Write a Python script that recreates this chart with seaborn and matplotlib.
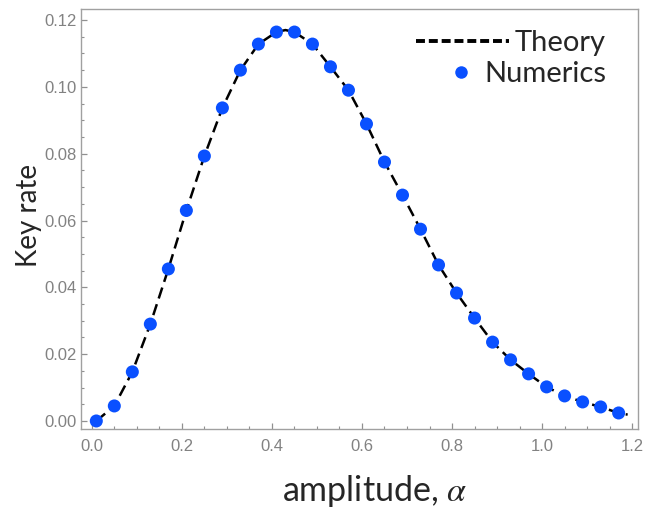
import matplotlib
matplotlib.use("Agg")
import matplotlib.pyplot as plt
import seaborn as sns
import pandas as pd
from matplotlib.ticker import MultipleLocator
from matplotlib.lines import Line2D

# ---- data ----
numerics_x = [0.01, 0.05, 0.09, 0.13, 0.17, 0.21, 0.25, 0.29, 0.33, 0.37,
              0.41, 0.45, 0.49, 0.53, 0.57, 0.61, 0.65, 0.69, 0.73, 0.77,
              0.81, 0.85, 0.89, 0.93, 0.97, 1.01, 1.05, 1.09, 1.13, 1.17]
numerics_y = [0.0000, 0.0045, 0.0147, 0.0290, 0.0455, 0.0630, 0.0793, 0.0937,
              0.1050, 0.1128, 0.1164, 0.1164, 0.1128, 0.1060, 0.0990, 0.0889,
              0.0775, 0.0676, 0.0574, 0.0467, 0.0383, 0.0308, 0.0236, 0.0183,
              0.0141, 0.0102, 0.0075, 0.0057, 0.0042, 0.0024]
theory_x = [0.01, 0.05, 0.09, 0.13, 0.17, 0.21, 0.25, 0.29, 0.33, 0.37,
            0.41, 0.43, 0.45, 0.49, 0.53, 0.57, 0.61, 0.65, 0.69, 0.73, 0.77,
            0.81, 0.85, 0.89, 0.93, 0.97, 1.01, 1.05, 1.09, 1.13, 1.17, 1.19]
theory_y = [0.0000, 0.0045, 0.0147, 0.0290, 0.0455, 0.0630, 0.0793, 0.0937,
            0.1050, 0.1128, 0.1164, 0.1170, 0.1164, 0.1128, 0.1060, 0.0990,
            0.0889, 0.0775, 0.0676, 0.0574, 0.0467, 0.0383, 0.0308, 0.0236,
            0.0183, 0.0141, 0.0102, 0.0075, 0.0057, 0.0042, 0.0024, 0.0019]
x_ticks = [0.0, 0.2, 0.4, 0.6, 0.8, 1.0, 1.2]
y_ticks = [0.00, 0.02, 0.04, 0.06, 0.08, 0.10, 0.12]

sns.set_style("white")
plt.rcParams["font.family"] = ["Lato", "DejaVu Sans"]
plt.rcParams["mathtext.fontset"] = "stix"

BLUE = "#0A50FF"
GRAY = "#828282"

fig = plt.figure(figsize=(6.45, 5.08), dpi=100)
ax = fig.add_axes([81 / 645, 1 - 429 / 508, 557 / 645, 420 / 508])

theory = pd.DataFrame({"x": theory_x, "y": theory_y})
num = pd.DataFrame({"x": numerics_x, "y": numerics_y})

sns.lineplot(data=theory, x="x", y="y", ax=ax, color="black", lw=1.8,
             dashes=False, sort=True, zorder=2, linestyle=(0, (4.6, 2.4)))
sns.scatterplot(data=num, x="x", y="y", ax=ax, color=BLUE, s=88,
                edgecolor="none", zorder=3)

ax.set_xlim(-0.024, 1.213)
ax.set_ylim(-0.0024, 0.1233)
ax.set_xticks(x_ticks)
ax.set_yticks(y_ticks)
ax.set_xticklabels([f"{v:.1f}" for v in x_ticks])
ax.set_yticklabels([f"{v:.2f}" for v in y_ticks])
ax.xaxis.set_minor_locator(MultipleLocator(0.05))
ax.yaxis.set_minor_locator(MultipleLocator(0.005))

for sp in ax.spines.values():
    sp.set_color("#a0a0a0")
    sp.set_linewidth(1.0)

ax.tick_params(which="both", direction="in", color="#909090",
               bottom=True, left=True, top=False, right=False)
ax.tick_params(which="major", length=4, width=0.9)
ax.tick_params(which="minor", length=2.3, width=0.8)
ax.tick_params(axis="x", which="major", pad=7)
ax.tick_params(axis="y", which="major", pad=3)
for lab in ax.get_xticklabels() + ax.get_yticklabels():
    lab.set_fontfamily(["Liberation Sans", "DejaVu Sans"])
    lab.set_fontsize(12)
    lab.set_color(GRAY)

ax.set_xlabel("amplitude, $\\alpha$", fontsize=24.5)
ax.set_ylabel("Key rate", fontsize=20)
ax.xaxis.set_label_coords((375 - 81) / 557, (429 - 473) / 420)
ax.yaxis.set_label_coords((42 - 81) / 557, (429 - 215) / 420)

h_theory = Line2D([], [], color="black", lw=2.8, linestyle=(0, (2.3, 1.0)))
leg1 = ax.legend(handles=[h_theory], labels=["Theory"], loc="upper right",
                 bbox_to_anchor=((606 - 81) / 557, (429 - 30) / 420),
                 frameon=False, fontsize=21, handlelength=3.2,
                 handletextpad=0.2, borderpad=0, borderaxespad=0)
ax.add_artist(leg1)
h_num = Line2D([], [], color=BLUE, marker="o", linestyle="none",
               markersize=9, markeredgewidth=0)
leg2 = ax.legend(handles=[h_num], labels=["Numerics"], loc="upper right",
                 bbox_to_anchor=((606 - 81) / 557, (429 - 61) / 420),
                 frameon=False, fontsize=21, handlelength=0.6,
                 handletextpad=0.5, borderpad=0, borderaxespad=0)

fig.savefig("out.png", dpi=100)
